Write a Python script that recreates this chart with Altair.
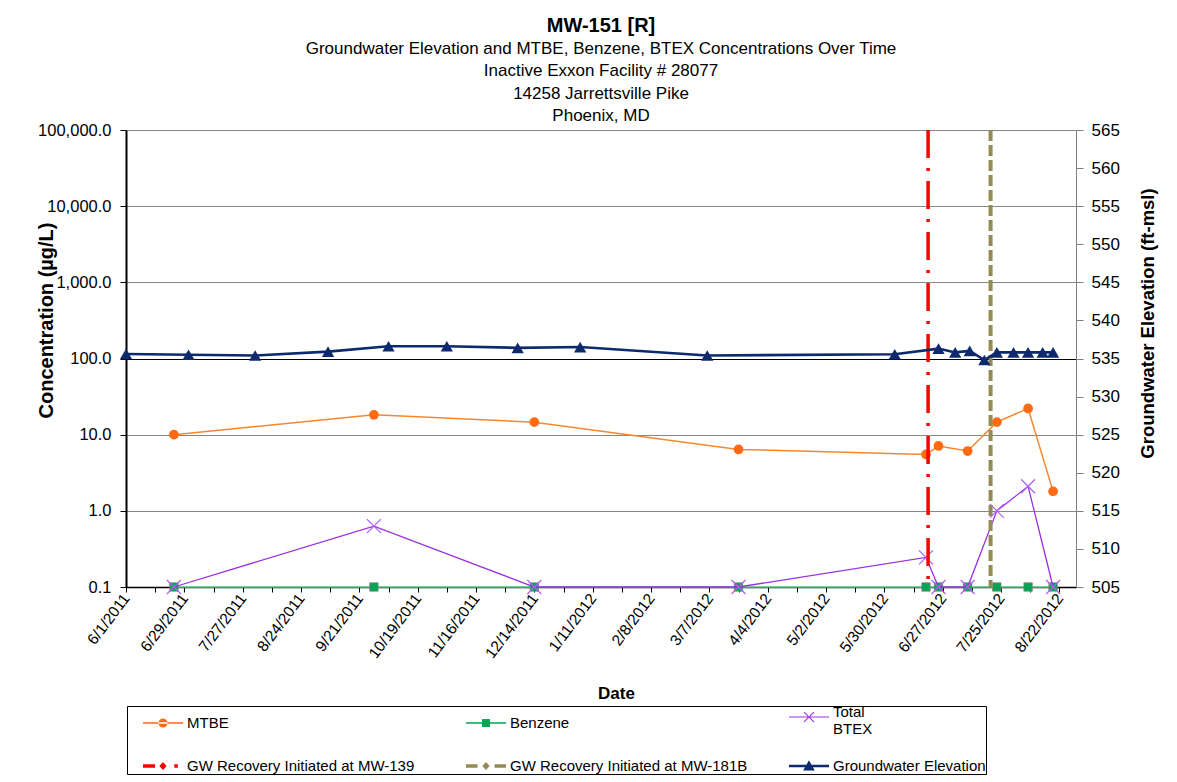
import altair as alt
import pandas as pd

# ---------------- data ----------------
sample_dates = ["2011-06-24", "2011-09-28", "2011-12-14", "2012-03-21", "2012-06-19",
                "2012-06-25", "2012-07-09", "2012-07-23", "2012-08-07", "2012-08-19"]
mtbe = [10.0, 18.2, 14.6, 6.4, 5.5, 7.1, 6.1, 14.6, 22.1, 1.8]
benzene = [0.1, 0.1, 0.1, 0.1, 0.1, 0.1, 0.1, 0.1, 0.1, 0.1]
total_btex = [0.1, 0.63, 0.1, 0.1, 0.245, 0.1, 0.1, 1.0, 2.1, 0.1]

gw_dates = ["2011-06-01", "2011-07-01", "2011-08-02", "2011-09-06", "2011-10-05",
            "2011-11-02", "2011-12-06", "2012-01-05", "2012-03-06", "2012-06-04",
            "2012-06-25", "2012-07-03", "2012-07-10", "2012-07-17", "2012-07-23",
            "2012-07-31", "2012-08-07", "2012-08-14", "2012-08-19"]
gw_elev = [535.6, 535.5, 535.4, 535.9, 536.6, 536.6, 536.4, 536.5, 535.4, 535.55,
           536.3, 535.8, 536.0, 534.8, 535.8, 535.8, 535.8, 535.8, 535.8]

event_names = ["GW Recovery Initiated at MW-139", "GW Recovery Initiated at MW-181B"]
event_dates = ["2012-06-20", "2012-07-20"]

series_names = ["MTBE", "Benzene", "Total BTEX",
                "GW Recovery Initiated at MW-139", "GW Recovery Initiated at MW-181B",
                "Groundwater Elevation"]

x_tick_labels = ["6/1/2011", "6/29/2011", "7/27/2011", "8/24/2011", "9/21/2011",
                 "10/19/2011", "11/16/2011", "12/14/2011", "1/11/2012", "2/8/2012",
                 "3/7/2012", "4/4/2012", "5/2/2012", "5/30/2012", "6/27/2012",
                 "7/25/2012", "8/22/2012"]
x_minor_ticks = ["6/15/2011", "7/13/2011", "8/10/2011", "9/7/2011", "10/5/2011",
                 "11/2/2011", "11/30/2011", "12/28/2011", "1/25/2012", "2/22/2012",
                 "3/21/2012", "4/18/2012", "5/16/2012", "6/13/2012", "7/11/2012",
                 "8/8/2012"]
x_domain = ["6/1/2011", "8/30/2012"]
conc_ticks = [0.1, 1, 10, 100, 1000, 10000, 100000]
elev_ticks = [505, 510, 515, 520, 525, 530, 535, 540, 545, 550, 555, 560, 565]

title_text = "MW-151 [R]"
subtitle_lines = ["Groundwater  Elevation and MTBE, Benzene, BTEX Concentrations Over Time",
                  "Inactive Exxon Facility # 28077",
                  "14258 Jarrettsville Pike",
                  "Phoenix, MD"]

# ---------------- tables ----------------
conc_long = pd.DataFrame({
    "date": sample_dates * 3,
    "series": ["MTBE"] * len(sample_dates) + ["Benzene"] * len(sample_dates) + ["Total BTEX"] * len(sample_dates),
    "value": mtbe + benzene + total_btex,
})
gw_df = pd.DataFrame({"date": gw_dates, "elev": gw_elev})
ev_df = pd.DataFrame({"date": event_dates, "event": event_names})
leg_df = pd.DataFrame({"series": series_names})


def dt(s):
    t = pd.to_datetime(s, format="%m/%d/%Y")
    return alt.DateTime(year=int(t.year), month=int(t.month), date=int(t.day), utc=True)


def ms(s):
    return int(pd.to_datetime(s, format="%m/%d/%Y").value // 10**6)


major_ms = [ms(s) for s in x_tick_labels]
all_ticks = [dt(s) for s in sorted(x_tick_labels + x_minor_ticks, key=ms)]

FONT = "Liberation Sans"

x_enc = alt.X(
    "date:T",
    scale=alt.Scale(type="utc", domain=[dt(x_domain[0]), dt(x_domain[1])]),
    axis=alt.Axis(
        title="Date", values=all_ticks,
        labelExpr="indexof(%s, time(datum.value)) >= 0 ? utcFormat(datum.value, '%%-m/%%-d/%%Y') : ''" % major_ms,
        labelAngle=307, labelAlign="right", labelBaseline="middle",
        labelOverlap=False, labelFlush=False, labelBound=False,
        labelFont=FONT, labelFontSize=15.5, labelColor="black", labelPadding=3,
        tickColor="black", tickSize=5, domainColor="black", domainWidth=1.5, grid=False,
        titleFont=FONT, titleFontSize=17, titleFontWeight="bold", titleColor="black",
        titleX=490, titleY=106, titleBaseline="middle", titleAlign="center",
    ),
)

y_conc = alt.Y(
    "value:Q",
    scale=alt.Scale(type="log", domain=[0.1, 100000]),
    axis=alt.Axis(
        orient="left", title="Concentration (µg/L)", values=conc_ticks, format=",.1f",
        grid=True,
        gridColor={"condition": {"test": "datum.value == 100", "value": "black"}, "value": "#868686"},
        gridWidth=1, domainColor="black", domainWidth=2, tickColor="black", tickSize=6,
        labelFont=FONT, labelFontSize=16.5, labelColor="black", labelPadding=9,
        titleFont=FONT, titleFontSize=20, titleFontWeight="bold", titleColor="black",
        titleX=-80, titleY=190, titleAngle=270, titleBaseline="middle", titleAlign="center",
    ),
)

y_elev = alt.Y(
    "elev:Q",
    scale=alt.Scale(domain=[505, 565], nice=False, zero=False),
    axis=alt.Axis(
        orient="right", title="Groundwater Elevation (ft-msl)", values=elev_ticks, format="d",
        grid=False, domainColor="#808080", domainWidth=1, tickColor="#808080", tickSize=7,
        labelFont=FONT, labelFontSize=17, labelColor="black", labelPadding=8,
        titleFont=FONT, titleFontSize=18.5, titleFontWeight="bold", titleColor="black",
        titleX=71, titleY=193, titleAngle=270, titleBaseline="middle", titleAlign="center",
    ),
)


def conc_series(name):
    return alt.Chart().transform_filter(alt.datum.series == name)


benz_line = conc_series("Benzene").mark_line(color="#5ED38C", strokeWidth=1.6).encode(x=x_enc, y=y_conc)
benz_pts = conc_series("Benzene").mark_point(shape="square", filled=True, fill="#00A651", stroke="#7F7F7F",
                                             strokeWidth=0.8, size=70, opacity=1).encode(x=x_enc, y=y_conc)
btex_line = conc_series("Total BTEX").mark_line(color="#9B30E0", strokeWidth=1.3).encode(x=x_enc, y=y_conc)
btex_pts = conc_series("Total BTEX").mark_point(shape="M-1,-1L1,1M-1,1L1,-1", filled=False, stroke="#B060F0",
                                                strokeWidth=1.2, size=196, opacity=1).encode(x=x_enc, y=y_conc)
mtbe_line = conc_series("MTBE").mark_line(color="#F7862F", strokeWidth=1.5).encode(x=x_enc, y=y_conc)
mtbe_pts = conc_series("MTBE").mark_point(shape="circle", filled=True, fill="#FF6A13", size=95,
                                          opacity=1).encode(x=x_enc, y=y_conc)

conc = alt.layer(benz_line, benz_pts, btex_line, btex_pts, mtbe_line, mtbe_pts, data=conc_long)

red_rule = alt.Chart(ev_df).transform_filter(alt.datum.event == event_names[0]).mark_rule(
    color="#FF0000", strokeWidth=3.5, strokeDash=[28, 10, 3, 10]).encode(x=x_enc)
olive_rule = alt.Chart(ev_df).transform_filter(alt.datum.event == event_names[1]).mark_rule(
    color="#948A54", strokeWidth=4, strokeDash=[11, 4]).encode(x=x_enc)

gw_line = alt.Chart().mark_line(color="#0E2A6E", strokeWidth=2.6).encode(x=x_enc, y=y_elev)
gw_pts = alt.Chart().mark_point(shape="triangle-up", filled=True, fill="#0E2A6E", size=150,
                                opacity=1).encode(x=x_enc, y=y_elev)
elev = alt.layer(gw_line, gw_pts, data=gw_df)

# legend-only layer (no rows drawn); symbols = line + marker paths
legend_colors = ["#FF6A13", "#00A651", "#9B30E0", "#FF0000", "#948A54", "#0E2A6E"]
legend_paths = [
    "M0.45,-0.07H4.09V0.07H0.45Z M1.86,0A0.41,0.41 0 1,0 2.68,0A0.41,0.41 0 1,0 1.86,0Z",
    "M0.45,-0.07H4.09V0.07H0.45Z M1.91,-0.36H2.63V0.36H1.91Z",
    "M0.45,-0.05H4.09V0.05H0.45Z M1.855,-0.485L2.755,0.415L2.685,0.485L1.785,-0.415Z M1.855,0.485L2.755,-0.415L2.685,-0.485L1.785,0.415Z",
    "M0.45,-0.16H1.55V0.16H0.45Z M2.27,-0.36L2.6,0L2.27,0.36L1.94,0Z M3.3,-0.16H3.62V0.16H3.3Z",
    "M0.45,-0.16H1.5V0.16H0.45Z M2.27,-0.36L2.6,0L2.27,0.36L1.94,0Z M3.05,-0.16H4.09V0.16H3.05Z",
    "M0.45,-0.12H4.09V0.12H0.45Z M2.27,-0.52L2.8,0.42H1.74Z",
]


def make_legend():
    return alt.Legend(
        title=None, orient="none", legendX=1, legendY=576, columns=3, direction="horizontal",
        columnPadding=25, rowPadding=18, gridAlign="all", padding=0,
        strokeColor="black", fillColor="white",
        symbolSize=484, symbolStrokeWidth=0, symbolOffset=0, labelOffset=38,
        labelFont=FONT, labelFontSize=15, labelColor="black", labelLimit=400,
        labelBaseline={"expr": "datum.label == 'Total BTEX' ? 'alphabetic' : 'middle'"},
        labelExpr="datum.label == 'Total BTEX' ? ['Total', 'BTEX'] : datum.label",
    )


legend_layer = alt.Chart(leg_df).transform_filter("false").mark_point(filled=True, opacity=1).encode(
    fill=alt.Fill("series:N", scale=alt.Scale(domain=series_names, range=legend_colors), legend=make_legend()),
    shape=alt.Shape("series:N", scale=alt.Scale(domain=series_names, range=legend_paths), legend=make_legend()),
)

chart = alt.layer(conc, red_rule, olive_rule, elev, legend_layer).resolve_scale(
    y="independent"
).properties(
    width=950, height=457,
    autosize=alt.AutoSizeParams(type="none"),
    padding={"left": 118, "top": 122, "right": 89, "bottom": 191},
    background="white",
    title=alt.TitleParams(
        text=title_text, subtitle=subtitle_lines, anchor="middle",
        font=FONT, fontSize=20, fontWeight="bold", color="black",
        subtitleFont=FONT, subtitleFontSize=17, subtitleColor="black",
        subtitleLineHeight=22.5, subtitlePadding=5, offset=-3,
    ),
).configure_view(stroke=None)

chart.save("out.html", embed_options={"renderer": "svg", "actions": False})
